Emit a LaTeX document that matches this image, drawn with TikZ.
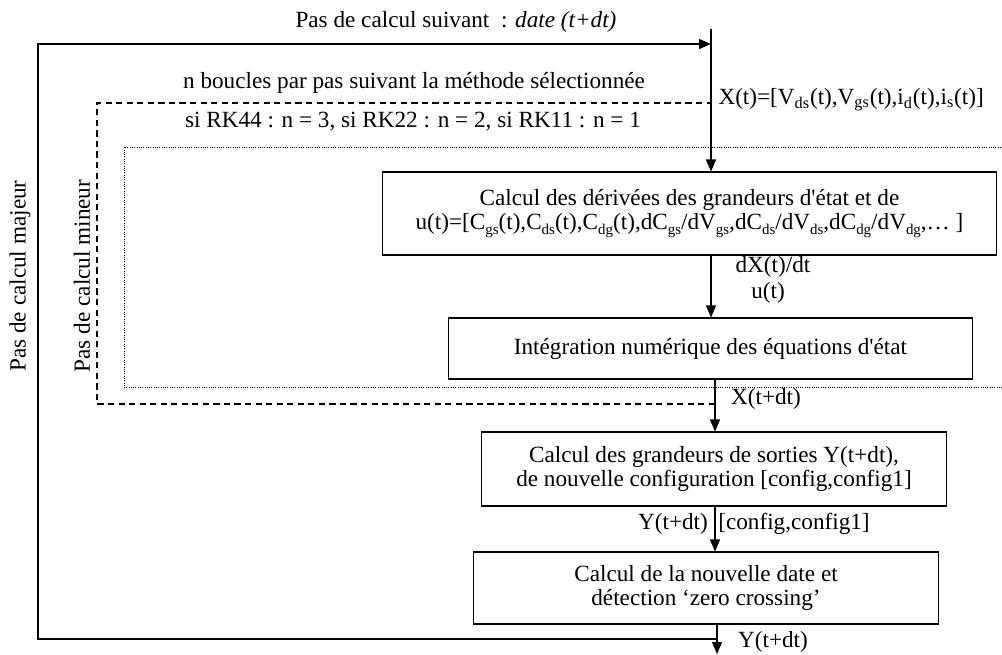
\documentclass[tikz,border=0pt]{standalone}
\usepackage{fontspec}
\setmainfont{Liberation Serif}
\usetikzlibrary{arrows.meta, positioning}

\newcommand{\ix}[1]{\raisebox{-0.4ex}{\fontsize{8.5}{8.5}\selectfont #1}}

\begin{document}
\begin{tikzpicture}[x=0.02cm, y=-0.02cm, line width=0.6pt,
        font=\fontsize{13.2}{13.7}\selectfont,
        box/.style={draw, rectangle, align=center, inner sep=2pt},
        lbl/.style={inner sep=0pt},
        arr/.style={-{Triangle[length=0.24cm, width=0.2cm]}},
        minor/.style={dash pattern=on 3.5pt off 2.5pt},
        loopn/.style={line width=0.4pt, dash pattern=on 0.5pt off 0.8pt}]
        \useasboundingbox (0,0) rectangle (1002,654);

        % Boxes
        \node (deriv) [box, minimum width=12.3cm, minimum height=1.66cm] at (689.5,213.5) {Calcul des dérivées des grandeurs d\textquotesingle état et de\\u(t)=[C\ix{gs}(t),C\ix{ds}(t),C\ix{dg}(t),dC\ix{gs}/dV\ix{gs},dC\ix{ds}/dV\ix{ds},dC\ix{dg}/dV\ix{dg},… ]};
        \node (integ) [box, minimum width=10.5cm, minimum height=1.22cm] at (710.5,348.5) {Intégration numérique des équations d\textquotesingle état};
        \node (sortie) [box, minimum width=9.32cm, minimum height=1.48cm] at (714,469) {Calcul des grandeurs de sorties Y(t+dt),\\de nouvelle configuration [config,config1]};
        \node (date) [box, minimum width=9.32cm, minimum height=1.44cm] at (706,588) {Calcul de la nouvelle date et\\détection `zero crossing'};

        % Main flow
        \coordinate (in) at (711,29);
        \coordinate (mid) at (715,0);
        \coordinate (fin) at (717,654);
        \draw[arr] (in) -- (in |- deriv.north);
        \draw[arr] (deriv.south -| in) -- (integ.north -| in);
        \draw[arr] (integ.south -| mid) -- (sortie.north -| mid);
        \draw[arr] (sortie.south -| mid) -- (date.north -| mid);
        \draw[arr] (date.south -| fin) -- (fin);

        % Loops
        \coordinate (retour) at (717,639);
        \coordinate (haut) at (711,44);
        \draw[arr, line width=0.75pt] (retour) -| (38,44) -- (haut);
        \draw[minor] (715,404) -| (97,103) -- (711,103);
        \draw[loopn] (1002,387) -| (124,147) -- (1002,147);

        % Labels
        \node (suivant) [lbl] at (456,22) {Pas de calcul suivant~ : \textit{date (t+dt)}};
        \node (boucles) [lbl] at (414,83) {n boucles par pas suivant la méthode sélectionnée};
        \node (rk) [lbl] at (413,122) {si RK44 : n = 3, si RK22 : n = 2, si RK11 : n = 1};
        \node (xt) [lbl, anchor=west] at (718,100) {X(t)=[V\textsubscript{ds}(t),V\textsubscript{gs}(t),i\textsubscript{d}(t),i\textsubscript{s}(t)]};
        \node (dxdt) [lbl] at (773,267) {dX(t)/dt};
        \node (ut) [lbl] at (768,293) {u(t)};
        \node (xdt) [lbl] at (766,399) {X(t+dt)};
        \node (ydt) [lbl] at (673,524) {Y(t+dt)};
        \node (config) [lbl] at (794,524) {[config,config1]};
        \node (yout) [lbl] at (773,642) {Y(t+dt)};
        \node (majeur) [lbl, rotate=90] at (20,276) {Pas de calcul majeur};
        \node (mineur) [lbl, rotate=90] at (82,276) {Pas de calcul mineur};
\end{tikzpicture}
\end{document}
